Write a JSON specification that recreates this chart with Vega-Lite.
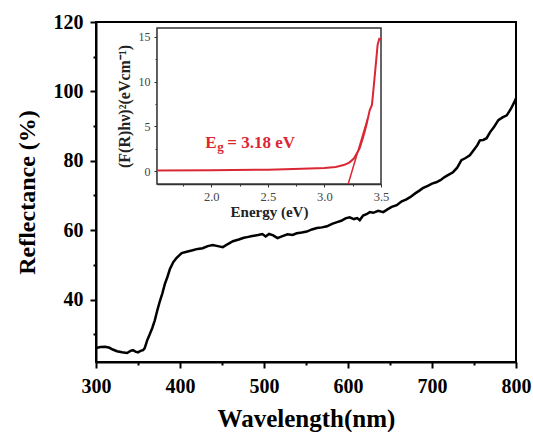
{
  "$schema": "https://vega.github.io/schema/vega-lite/v6.json",
  "width": 420,
  "height": 340,
  "autosize": "none",
  "padding": {"left": 96, "top": 22, "right": 17, "bottom": 70},
  "background": "white",
  "config": {"view": {"stroke": "black", "strokeWidth": 2}, "font": "Liberation Serif"},
  "datasets": {
    "main": [
      {"w":300,"r":26.0},{"w":305,"r":26.3},{"w":311,"r":26.4},{"w":316,"r":26.1},{"w":320,"r":25.6},{"w":325,"r":25.1},{"w":331,"r":24.8},{"w":337,"r":24.6},{"w":341,"r":25.2},{"w":344,"r":25.4},{"w":347,"r":25.0},{"w":350,"r":24.8},{"w":353,"r":25.2},{"w":356,"r":25.4},{"w":358,"r":26.0},{"w":361,"r":28.3},{"w":364,"r":30.0},{"w":367,"r":31.8},{"w":370,"r":34.0},{"w":373,"r":36.9},{"w":376,"r":39.5},{"w":379,"r":41.8},{"w":382,"r":44.5},{"w":385,"r":46.5},{"w":388,"r":48.8},{"w":392,"r":50.8},{"w":396,"r":52.0},{"w":402,"r":53.4},{"w":408,"r":53.8},{"w":415,"r":54.2},{"w":421,"r":54.6},{"w":427,"r":54.8},{"w":433,"r":55.4},{"w":439,"r":55.7},{"w":445,"r":55.4},{"w":451,"r":55.1},{"w":457,"r":56.0},{"w":463,"r":56.8},{"w":470,"r":57.3},{"w":476,"r":57.8},{"w":480,"r":58.0},{"w":486,"r":58.3},{"w":493,"r":58.6},{"w":498,"r":58.9},{"w":502,"r":58.2},{"w":506,"r":58.9},{"w":511,"r":58.5},{"w":516,"r":57.7},{"w":522,"r":58.3},{"w":528,"r":58.8},{"w":534,"r":58.6},{"w":539,"r":59.1},{"w":545,"r":59.3},{"w":551,"r":59.6},{"w":557,"r":60.2},{"w":563,"r":60.6},{"w":569,"r":60.8},{"w":575,"r":61.1},{"w":581,"r":61.8},{"w":587,"r":62.3},{"w":592,"r":62.7},{"w":597,"r":63.4},{"w":602,"r":63.7},{"w":607,"r":63.2},{"w":611,"r":63.5},{"w":614,"r":62.9},{"w":618,"r":64.2},{"w":622,"r":64.6},{"w":626,"r":65.2},{"w":630,"r":65.0},{"w":636,"r":65.6},{"w":642,"r":65.2},{"w":647,"r":66.0},{"w":652,"r":66.7},{"w":658,"r":67.2},{"w":664,"r":68.3},{"w":669,"r":68.8},{"w":674,"r":69.5},{"w":680,"r":70.6},{"w":685,"r":71.4},{"w":689,"r":72.1},{"w":695,"r":72.8},{"w":700,"r":73.4},{"w":705,"r":73.8},{"w":710,"r":74.4},{"w":715,"r":75.3},{"w":720,"r":76.0},{"w":725,"r":76.7},{"w":730,"r":78.0},{"w":735,"r":80.2},{"w":740,"r":80.8},{"w":745,"r":81.6},{"w":750,"r":83.2},{"w":754,"r":84.5},{"w":757,"r":85.9},{"w":761,"r":86.0},{"w":765,"r":86.5},{"w":769,"r":88.2},{"w":774,"r":89.8},{"w":779,"r":91.7},{"w":784,"r":92.5},{"w":789,"r":93.1},{"w":794,"r":95.0},{"w":799,"r":97.4},{"w":800,"r":98.0}
    ],
    "inset": [
      {"e":1.52,"f":0.05},{"e":2.0,"f":0.08},{"e":2.5,"f":0.15},{"e":2.8,"f":0.25},{"e":3.0,"f":0.33},{"e":3.1,"f":0.45},{"e":3.17,"f":0.67},{"e":3.22,"f":0.95},{"e":3.26,"f":1.4},{"e":3.31,"f":2.5},{"e":3.34,"f":3.7},{"e":3.37,"f":5.1},{"e":3.4,"f":6.8},{"e":3.42,"f":7.4},{"e":3.44,"f":10.0},{"e":3.47,"f":14.1},{"e":3.485,"f":14.8},{"e":3.5,"f":14.8}
    ],
    "tangent": [{"e":3.21,"f":-1.45},{"e":3.38,"f":5.8}]
  },
  "layer": [
    {
      "data": {"name": "main"},
      "mark": {"type": "line", "color": "black", "strokeWidth": 2.5},
      "encoding": {
        "x": {"field": "w", "type": "quantitative",
          "scale": {"domain": [300, 800], "nice": false, "zero": false},
          "axis": {"orient": "bottom", "title": "Wavelength(nm)", "values": [300,350,400,450,500,550,600,650,700,750,800],
            "labelExpr": "datum.value % 100 === 0 ? datum.label : ''",
            "tickSize": {"condition": {"test": "datum.value % 100 !== 0", "value": 3}, "value": 6},
            "tickWidth": 2, "tickColor": "black", "domainColor": "black", "domainWidth": 2,
            "labelFont": "Liberation Serif", "labelFontWeight": "bold", "labelFontSize": 20, "labelColor": "black",
            "labelPadding": 8, "labelFlush": false, "labelOverlap": false,
            "titleFont": "Liberation Serif", "titleFontWeight": "bold", "titleFontSize": 25, "titleColor": "black", "titlePadding": 10, "grid": false}},
        "y": {"field": "r", "type": "quantitative",
          "scale": {"domain": [22, 120], "nice": false, "zero": false},
          "axis": {"orient": "left", "title": "Reflectance (%)", "values": [30,40,50,60,70,80,90,100,110,120],
            "labelExpr": "datum.value % 20 === 0 ? datum.label : ''",
            "tickSize": {"condition": {"test": "datum.value % 20 !== 0", "value": 3}, "value": 6},
            "tickWidth": 2, "tickColor": "black", "domainColor": "black", "domainWidth": 2,
            "labelFont": "Liberation Serif", "labelFontWeight": "bold", "labelFontSize": 20, "labelColor": "black",
            "labelPadding": 7, "labelFlush": false, "labelOverlap": false,
            "titleFont": "Liberation Serif", "titleFontWeight": "bold", "titleFontSize": 24, "titleColor": "black", "titlePadding": 14, "grid": false}}
      }
    },
    {
      "layer": [
        {
          "data": {"values": [{}]},
          "mark": {"type": "rect", "fill": "white", "stroke": "#333333", "strokeWidth": 1.5},
          "encoding": {
            "x": {"datum": 1.52, "type": "quantitative", "title": "Energy (eV)"},
            "x2": {"datum": 3.5},
            "y": {"datum": -1.45, "type": "quantitative", "title": "(F(R)hν)²(eVcm⁻¹)"},
            "y2": {"datum": 16}
          }
        },
        {
          "data": {"name": "inset"},
          "mark": {"type": "line", "color": "#d92734", "strokeWidth": 2},
          "encoding": {
            "x": {"field": "e", "type": "quantitative", "title": "Energy (eV)",
              "scale": {"domain": [1.52, 3.5], "range": [61, 285], "nice": false, "zero": false},
              "axis": {"orient": "bottom", "offset": -178, "values": [1.75,2.0,2.25,2.5,2.75,3.0,3.25,3.5],
                "format": ".1f",
                "labelExpr": "(datum.value * 4) % 2 === 0 ? datum.label : ''",
                "tickSize": {"condition": {"test": "(datum.value * 4) % 2 !== 0", "value": 2}, "value": 3},
                "tickColor": "#333333", "domainColor": "#333333", "domainWidth": 1.5,
                "labelFont": "Liberation Serif", "labelFontSize": 12.5, "labelColor": "#444444", "labelPadding": 3,
                "labelFlush": false, "labelOverlap": false,
                "titleFont": "Liberation Serif", "titleFontWeight": "bold", "titleFontSize": 15, "titleColor": "#222222", "titlePadding": 2, "grid": false}},
            "y": {"field": "f", "type": "quantitative", "title": "(F(R)hν)²(eVcm⁻¹)",
              "scale": {"domain": [-1.45, 16], "range": [162, 6], "nice": false, "zero": false},
              "axis": {"orient": "left", "offset": -61, "values": [0,2.5,5,7.5,10,12.5,15],
                "labelExpr": "datum.value % 5 === 0 ? datum.label : ''",
                "tickSize": {"condition": {"test": "datum.value % 5 !== 0", "value": 2}, "value": 3},
                "tickColor": "#333333", "domainColor": "#333333", "domainWidth": 1.5,
                "labelFont": "Liberation Serif", "labelFontSize": 12, "labelColor": "#444444", "labelPadding": 4,
                "labelFlush": false, "labelOverlap": false,
                "titleFont": "Liberation Serif", "titleFontWeight": "bold", "titleFontSize": 16, "titleColor": "#222222", "titlePadding": 6, "grid": false}}
          }
        },
        {
          "data": {"name": "tangent"},
          "mark": {"type": "line", "color": "#d92734", "strokeWidth": 1.5},
          "encoding": {
            "x": {"field": "e", "type": "quantitative", "title": "Energy (eV)"},
            "y": {"field": "f", "type": "quantitative", "title": "(F(R)hν)²(eVcm⁻¹)"}
          }
        },
        {
          "data": {"values": [{"t": "E"}]},
          "mark": {"type": "text", "color": "#d92734", "font": "Liberation Serif", "fontWeight": "bold", "fontSize": 17, "align": "left", "baseline": "alphabetic"},
          "encoding": {
            "x": {"datum": 1.947, "type": "quantitative", "title": "Energy (eV)"},
            "y": {"datum": 2.6, "type": "quantitative", "title": "(F(R)hν)²(eVcm⁻¹)"},
            "text": {"field": "t"}
          }
        },
        {
          "data": {"values": [{"t": "g"}]},
          "mark": {"type": "text", "color": "#d92734", "font": "Liberation Serif", "fontWeight": "bold", "fontSize": 13, "align": "left", "baseline": "alphabetic", "dx": 12, "dy": 3},
          "encoding": {
            "x": {"datum": 1.947, "type": "quantitative", "title": "Energy (eV)"},
            "y": {"datum": 2.6, "type": "quantitative", "title": "(F(R)hν)²(eVcm⁻¹)"},
            "text": {"field": "t"}
          }
        },
        {
          "data": {"values": [{"t": "= 3.18 eV"}]},
          "mark": {"type": "text", "color": "#d92734", "font": "Liberation Serif", "fontWeight": "bold", "fontSize": 17, "align": "left", "baseline": "alphabetic", "dx": 22},
          "encoding": {
            "x": {"datum": 1.947, "type": "quantitative", "title": "Energy (eV)"},
            "y": {"datum": 2.6, "type": "quantitative", "title": "(F(R)hν)²(eVcm⁻¹)"},
            "text": {"field": "t"}
          }
        }
      ]
    }
  ],
  "resolve": {"scale": {"x": "independent", "y": "independent"}, "axis": {"x": "independent", "y": "independent"}}
}
